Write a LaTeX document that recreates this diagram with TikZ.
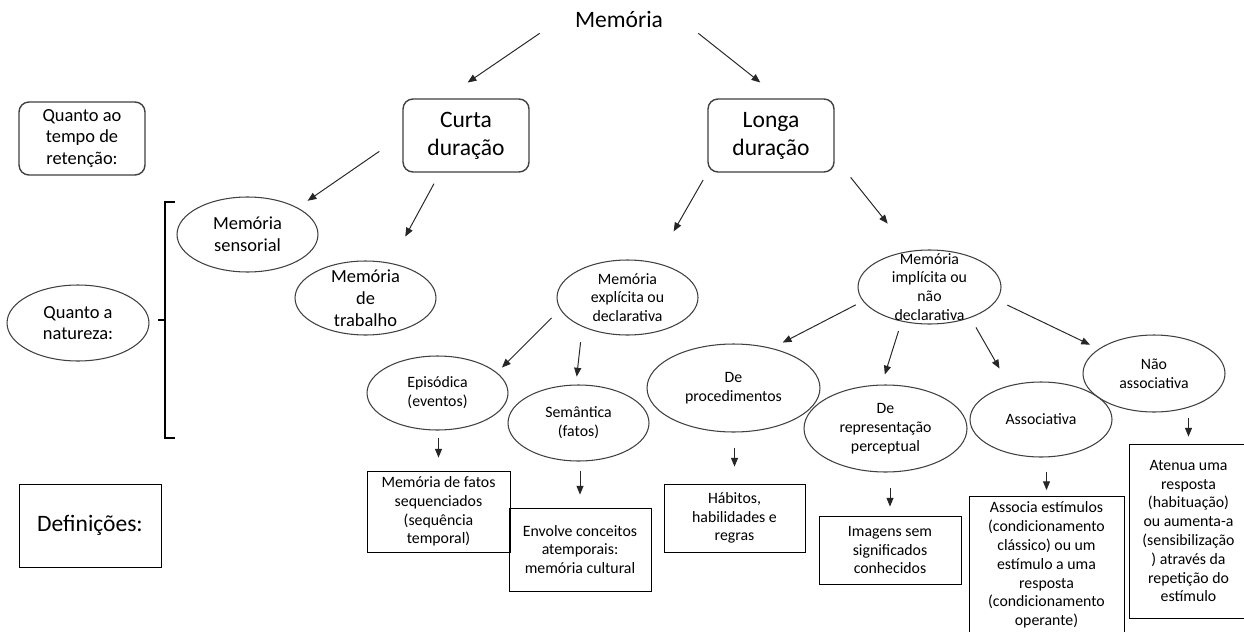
\documentclass[tikz,border=0pt]{standalone}
\usepackage{fontspec}
\setmainfont{Carlito}
\usetikzlibrary{shapes.geometric,arrows.meta}

\begin{document}
\begin{tikzpicture}[x=0.02cm, y=-0.02cm,
  arr/.style={-{Triangle[length=5pt,width=4pt]}, line width=0.55pt, black!85},
  elli/.style={ellipse, draw=black!75, line width=0.6pt, inner sep=-1cm},
  rbox/.style={draw=black!75, line width=0.8pt, rounded corners=0.2cm, minimum width=2.52cm, minimum height=1.46cm, inner sep=0pt},
  defbox/.style={draw, line width=0.5pt, inner sep=0pt},
  txtbig/.style={font=\fontsize{13.4}{16}\selectfont, align=center},
  txtmid/.style={font=\fontsize{10.5}{12.4}\selectfont, align=center},
  txtsml/.style={font=\fontsize{9}{10.7}\selectfont, align=center}]

\useasboundingbox (0,0) rectangle (1244,632);
\fill[white] (0,0) rectangle (1244,632);
\clip (0,0) rectangle (1244,632);

\node[txtbig, minimum width=3.16cm, minimum height=0.56cm, inner sep=0pt] (mem) at (619,19) {Memória};

\node[rbox, txtmid] (tempo) at (82,138.5) {Quanto ao\\tempo de\\retenção:};
\node[rbox, txtbig] (curta) at (466,135.5) {Curta\\duração};
\node[rbox, txtbig] (longa) at (771,135.5) {Longa\\duração};

% natureza
\node[elli, txtmid, minimum width=2.84cm, minimum height=1.52cm] (natur) at (78,323) {Quanto a\\natureza:};
\draw[line width=0.6pt] (175,202) -- (165,202) -- (165,438) -- (175,438);
\draw[line width=0.6pt] (158,320) -- (165,320);

\node[elli, txtmid, minimum width=2.82cm, minimum height=1.5cm] (sens) at (247.5,234.5) {Memória\\sensorial};
\node[elli, txtmid, minimum width=2.82cm, minimum height=1.48cm] (trab) at (365.5,298) {Memória\\de\\trabalho};
\node[elli, txtsml, minimum width=2.82cm, minimum height=1.5cm] (expl) at (627.5,297.5) {Memória\\explícita ou\\declarativa};
\node[elli, txtsml, minimum width=2.86cm, minimum height=1.48cm] (impl) at (929.5,287) {Memória\\implícita ou\\não\\declarativa};

\node[elli, txtsml, minimum width=2.82cm, minimum height=1.48cm] (epis) at (437.5,393) {Episódica\\(eventos)};
\node[elli, txtsml, minimum width=2.82cm, minimum height=1.52cm] (sem) at (578.5,423) {Semântica\\(fatos)};
\node[elli, txtsml, minimum width=3.46cm, minimum height=1.76cm] (proc) at (733.5,388) {De\\procedimentos};
\node[elli, txtsml, minimum width=3.26cm, minimum height=1.74cm] (repr) at (885.5,428.5) {De\\representação\\perceptual};
\node[elli, txtsml, minimum width=2.84cm, minimum height=1.5cm] (assoc) at (1041,419.5) {Associativa};
\node[elli, txtsml, minimum width=2.84cm, minimum height=1.54cm] (nao) at (1154,373.5) {Não\\associativa};

% definicoes
\node[defbox, txtbig, minimum width=2.84cm, minimum height=1.66cm] (defin) at (90,525.5) {Definições:};
\node[defbox, txtsml, minimum width=2.86cm, minimum height=1.62cm] (fatos) at (438.5,511.5) {Memória de fatos\\sequenciados\\(sequência\\temporal)};
\node[defbox, txtsml, minimum width=2.84cm, minimum height=1.66cm] (envol) at (580,549.5) {Envolve conceitos\\atemporais:\\memória cultural};
\node[defbox, txtsml, minimum width=2.82cm, minimum height=1.36cm] (habit) at (734.5,518) {Hábitos,\\habilidades e\\regras};
\node[defbox, txtsml, minimum width=2.84cm, minimum height=1.36cm] (imag) at (890,550) {Imagens sem\\significados\\conhecidos};
\node[defbox, txtsml, minimum width=3.1cm, minimum height=2.74cm] (asdef) at (1046.5,565) {Associa estímulos\\(condicionamento\\clássico) ou um\\estímulo a uma\\resposta\\(condicionamento\\operante)};
\node[defbox, txtsml, minimum width=2.38cm, minimum height=3.48cm] (atdef) at (1188.5,531) {Atenua uma\\resposta\\(habituação)\\ou aumenta-a\\(sensibilização\\) através da\\repetição do\\estímulo};

\draw[arr, shorten >=0.56cm] (mem.south west) -- (curta.120);
\draw[arr, shorten >=0.51cm] (mem.south east) -- (longa.76);

\draw[arr, shorten <=0.56cm, shorten >=0.24cm] (curta.west) -- (sens.north east);
\draw[arr, shorten <=0.25cm, shorten >=0.6cm] (curta.235) -- (trab.54);
\draw[arr, shorten <=0.17cm, shorten >=0.72cm] (longa.south west) -- (expl.51);
\draw[arr, shorten <=0.51cm, shorten >=0.7cm] (longa.341) -- (impl.119);

\draw[arr, shorten <=0.24cm, shorten >=0.14cm] (expl.190) -- (epis.19);
\draw[arr, shorten <=0.31cm, shorten >=0.16cm] (expl.213) -- (sem.94);
\draw[arr, shorten <=0.16cm, shorten >=0.24cm] (impl.192) -- (proc.46);
\draw[arr, shorten <=0.2cm, shorten >=0.21cm] (impl.231) -- (repr.95);
\draw[arr, shorten <=0.22cm, shorten >=0.39cm] (impl.323) -- (assoc.133);
\draw[arr, shorten <=0.23cm, shorten >=0.19cm] (impl.349) -- (nao.156);

\draw[arr, shorten <=0.14cm, shorten >=0.26cm] (fatos.north |- epis.south) -- (fatos.north);
\draw[arr, shorten <=0.18cm, shorten >=0.26cm] (envol.north |- sem.south) -- (envol.north);
\draw[arr, shorten <=0.3cm, shorten >=0.34cm] (habit.north |- proc.south) -- (habit.north);
\draw[arr, shorten <=0.3cm, shorten >=0.18cm] (imag.north |- repr.south) -- (imag.north);
\draw[arr, shorten <=0.28cm, shorten >=0.12cm] (asdef.north |- assoc.south) -- (asdef.north);
\draw[arr, shorten <=0.1cm, shorten >=0.14cm] (atdef.north |- nao.south) -- (atdef.north);

\end{tikzpicture}
\end{document}
